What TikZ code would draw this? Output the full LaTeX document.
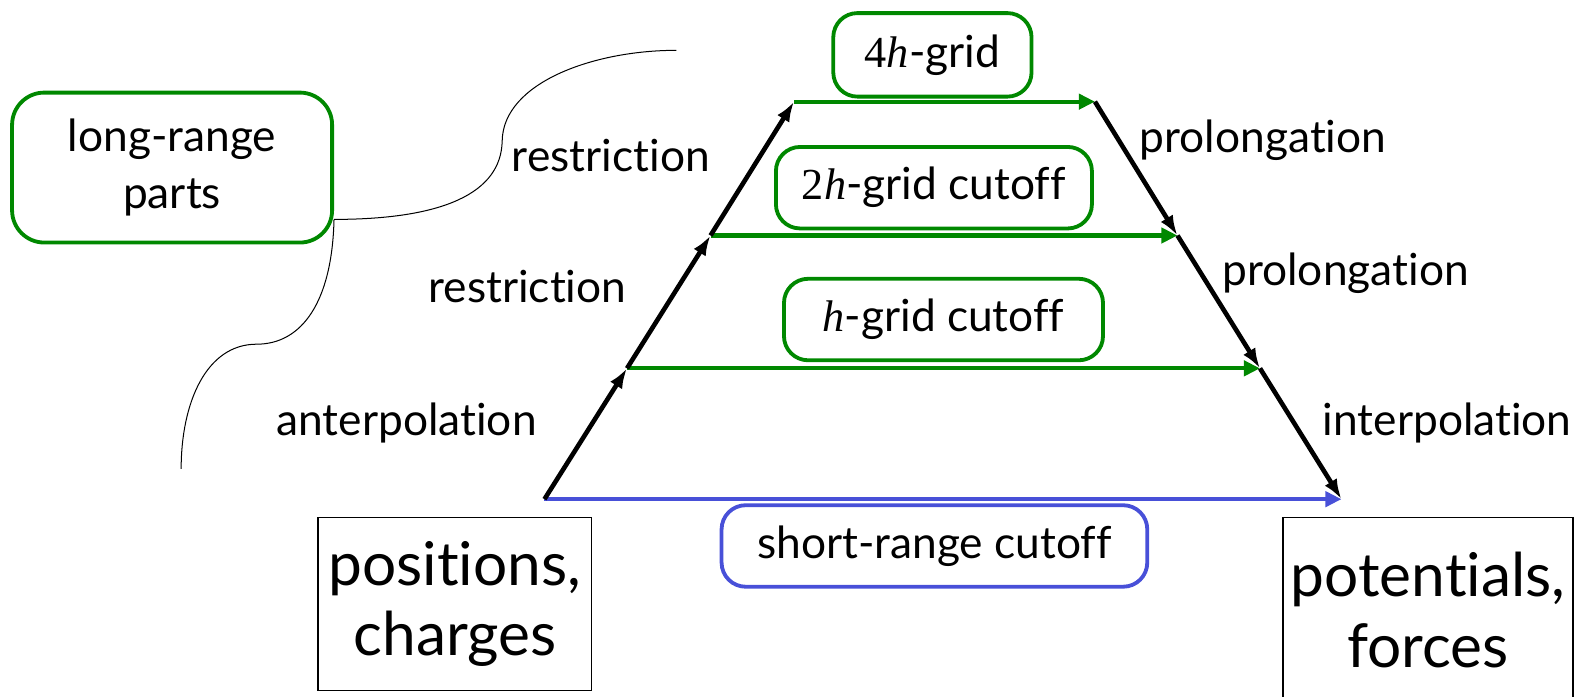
\documentclass[tikz,border=0pt]{standalone}
\usepackage{fontspec}
\setmainfont{Lato}[Ligatures=CommonOff]
\newfontfamily\gridfont{Liberation Serif}
\usetikzlibrary{arrows.meta}
\definecolor{grn}{RGB}{0,136,0}
\definecolor{blu}{RGB}{72,80,216}
\newcommand{\gridh}[1]{{\gridfont #1\textit{h}}}

\begin{document}
\begin{tikzpicture}[x=0.5pt,y=-0.5pt,
  lbl/.style={font=\fontsize{22}{26}\selectfont, anchor=base, inner sep=0pt},
  gbox/.style={draw=grn, line width=1.9pt, rounded corners=12pt, inner sep=0pt,
    align=center, font=\fontsize{22}{28}\selectfont},
  bbox/.style={gbox, draw=blu},
  plainbox/.style={draw=black, line width=0.7pt, inner sep=0pt, align=center,
    font=\fontsize{30}{35}\selectfont},
  ladder/.style={line width=2.3pt, -{Latex[length=10pt,width=7pt]}},
  gflow/.style={draw=grn, line width=2.1pt, -{Triangle[length=8pt,width=7.5pt]}},
  bflow/.style={draw=blu, line width=2.1pt, -{Triangle[length=8pt,width=7.5pt]}},
  wire/.style={line width=0.5pt}]
\useasboundingbox (0,0) rectangle (1568,692);

% corners of the multigrid ladder
\coordinate (b0) at (541,496);
\coordinate (l1) at (623,366);
\coordinate (l2) at (706,234);
\coordinate (l3) at (789,101);
\coordinate (r3) at (1088,101);
\coordinate (r2) at (1170,234);
\coordinate (r1) at (1252,366);
\coordinate (b1) at (1333,496);

% boxes
\node[gbox, rounded corners=16pt, minimum width=159pt, minimum height=74.5pt] (lr) at (171,166.5) {long-range\\parts};
\node[gbox, minimum width=98.5pt, minimum height=41.5pt] (g4) at (926.5,54.5) {\gridh{4}-grid};
\node[gbox, minimum width=157pt, minimum height=40.5pt] (g2) at (928,186.5) {\gridh{2}-grid cutoff};
\node[gbox, minimum width=158.5pt, minimum height=40.5pt] (g1) at (937.5,317.5) {\gridh{}-grid cutoff};
\node[bbox, minimum width=211.5pt, minimum height=40.5pt] (sr) at (928.5,542.5) {short-range cutoff};
\node[plainbox, minimum width=136pt, minimum height=86pt] (pc) at (452,600) {positions,\\charges};
\node[plainbox, minimum width=144pt, minimum height=92pt] (pf) at (1419,606) {potentials,\\forces};

% transfer labels
\node[lbl] (res2) at (607,170) {restriction};
\node[lbl] (res1) at (524,301) {restriction};
\node[lbl] (ant) at (404,433) {anterpolation};
\node[lbl] (pro2) at (1255,152) {prolongation};
\node[lbl] (pro1) at (1337,284) {prolongation};
\node[lbl] (int) at (1438,433) {interpolation};

% horizontal cutoff flows
\draw[bflow] (b0) -- (b1);
\draw[gflow] (l1) -- (r1);
\draw[gflow] (l2) -- (r2);
\draw[gflow] (l3) -- (r3);

% up and down the grid hierarchy
\draw[ladder] (b0) -- (l1);
\draw[ladder] (l1) -- (l2);
\draw[ladder] (l2) -- (l3);
\draw[ladder] (r3) -- (r2);
\draw[ladder] (r2) -- (r1);
\draw[ladder] (r1) -- (b1);

% brace-like curves from the long-range box
\coordinate (tail) at (lr.east |- 0,218);
\coordinate (w1mid) at (499,140);
\coordinate (w1end) at (672,50);
\coordinate (w2mid) at (255,342);
\coordinate (w2end) at (180,466);
\draw[wire] (tail) .. controls (440,218) and (498,192) .. (w1mid)
  .. controls (500,82) and (590,50) .. (w1end);
\draw[wire] (tail) .. controls (330,300) and (300,342) .. (w2mid)
  .. controls (205,342) and (180,400) .. (w2end);
\end{tikzpicture}
\end{document}
